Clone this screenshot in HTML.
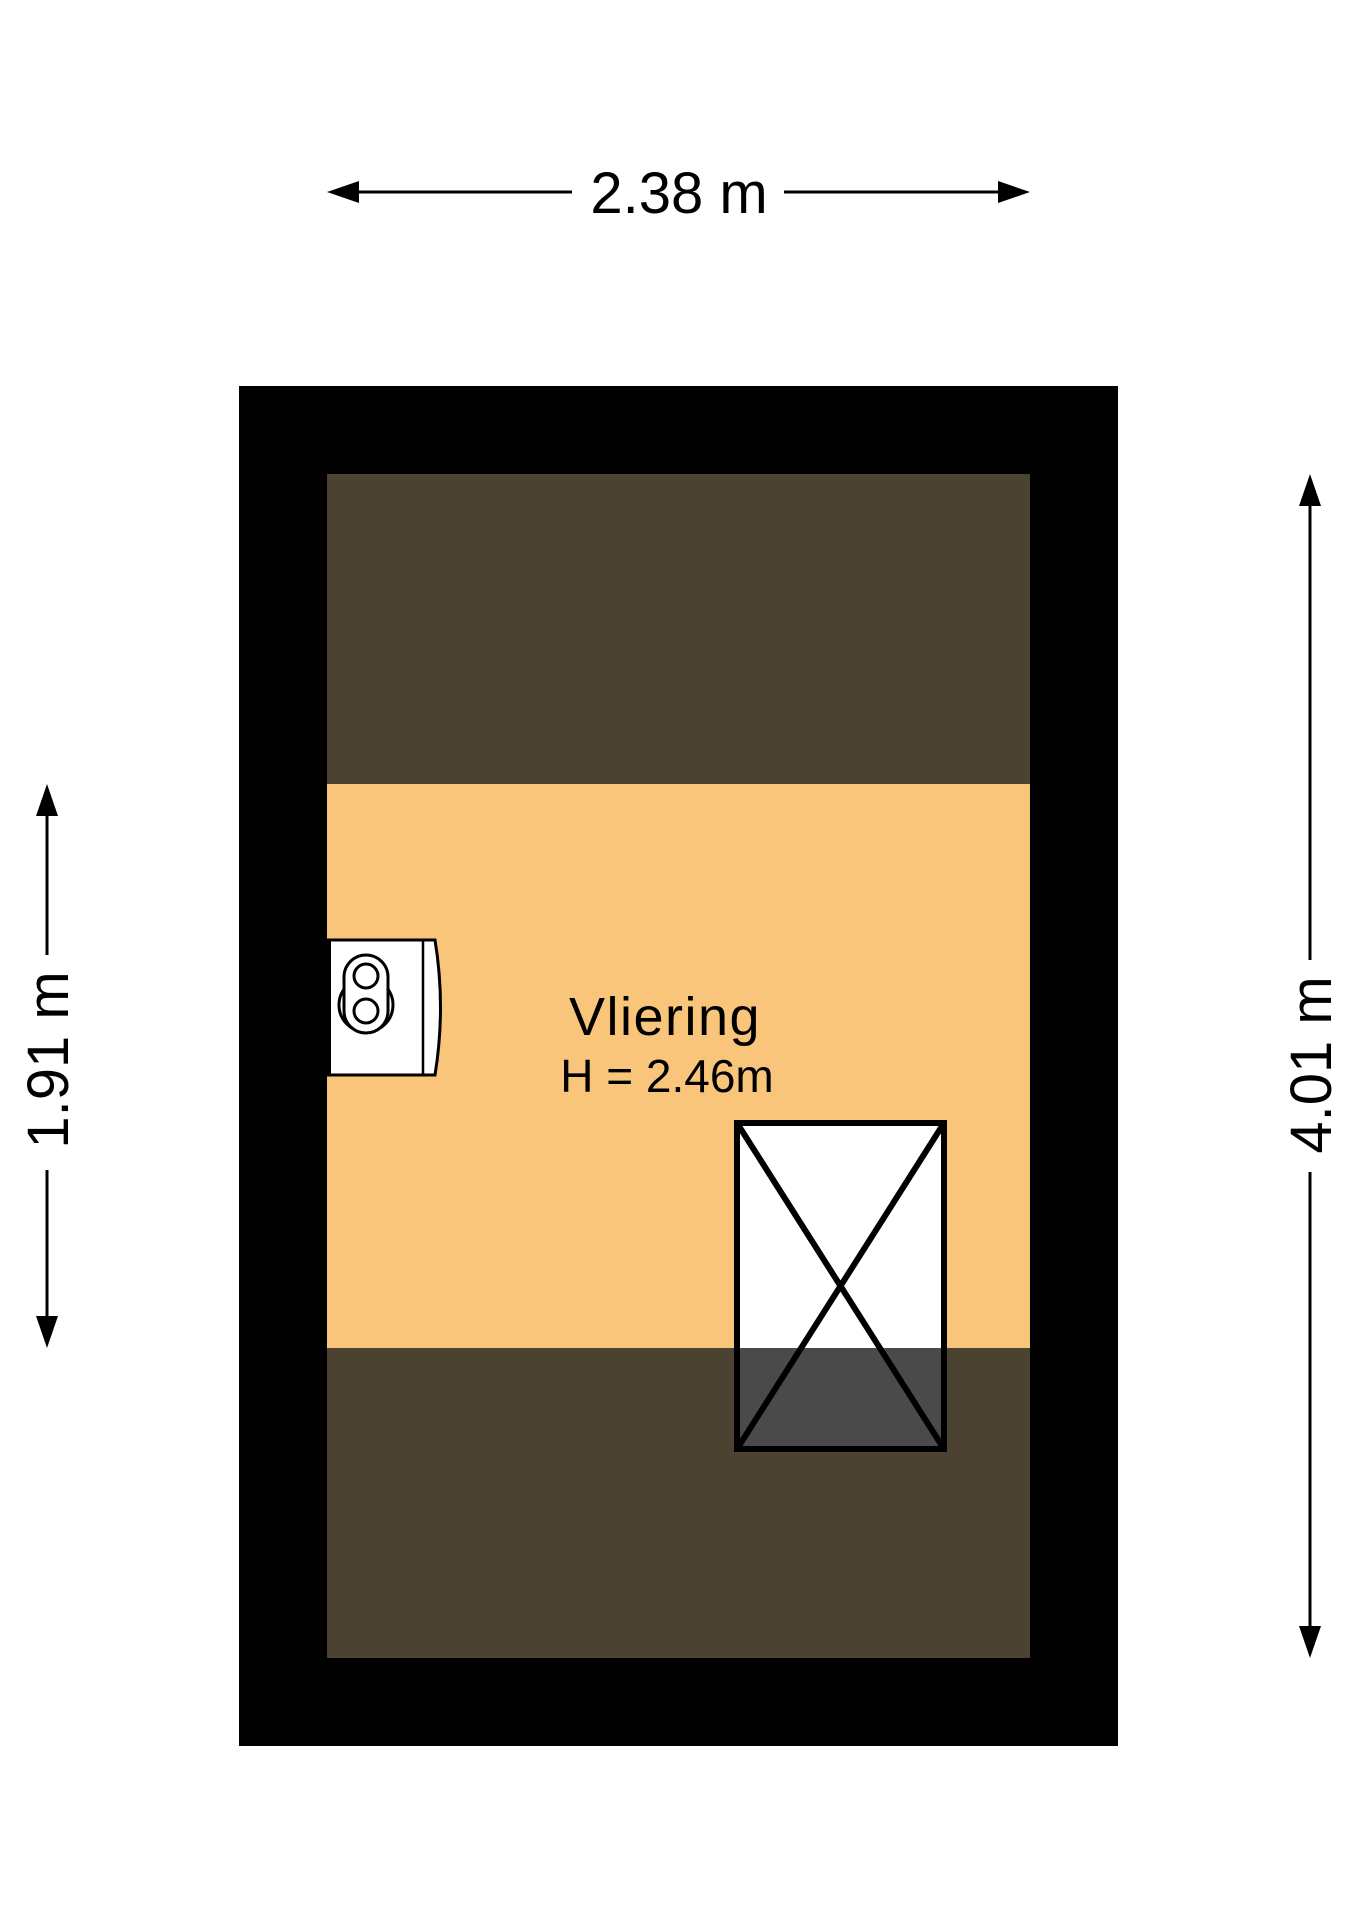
<!DOCTYPE html>
<html><head><meta charset="utf-8"><style>
html,body{margin:0;padding:0;background:#fff;}
svg{display:block;}
text{font-family:"Liberation Sans",sans-serif;fill:#000;}
</style></head><body>
<svg width="1358" height="1920" viewBox="0 0 1358 1920" xmlns="http://www.w3.org/2000/svg">
<rect x="239" y="386" width="879" height="1360" fill="#000"/>
<rect x="327" y="474" width="703" height="1184" fill="#4b4232"/>
<rect x="327" y="784" width="703" height="564" fill="#f9c57a"/>
<!-- boiler -->
<path d="M327 940 L435 940 Q446 1007 435 1075 L327 1075 Z" fill="#fff" stroke="#000" stroke-width="3"/>
<line x1="423" y1="941" x2="423" y2="1074" stroke="#000" stroke-width="2.5"/>
<rect x="327" y="940" width="4" height="135" fill="#000"/>
<circle cx="366" cy="1005" r="27" fill="none" stroke="#000" stroke-width="3"/>
<rect x="344" y="955" width="44" height="78" rx="22" fill="#fff" stroke="#000" stroke-width="3"/>
<circle cx="366" cy="976" r="12" fill="none" stroke="#000" stroke-width="3"/>
<circle cx="366" cy="1011" r="12" fill="none" stroke="#000" stroke-width="3"/>
<!-- hatch -->
<rect x="737" y="1123" width="207" height="225" fill="#fff"/>
<rect x="737" y="1348" width="207" height="101" fill="#4a4a4a"/>
<rect x="737" y="1123" width="207" height="326" fill="none" stroke="#000" stroke-width="6"/>
<line x1="737" y1="1123" x2="944" y2="1449" stroke="#000" stroke-width="6"/>
<line x1="944" y1="1123" x2="737" y2="1449" stroke="#000" stroke-width="6"/>
<!-- labels -->
<text x="665" y="1035" font-size="54" text-anchor="middle" letter-spacing="1.5">Vliering</text>
<text x="667" y="1092" font-size="46" text-anchor="middle">H = 2.46m</text>
<!-- top dim -->
<line x1="350" y1="192" x2="572" y2="192" stroke="#000" stroke-width="3"/>
<line x1="784" y1="192" x2="1008" y2="192" stroke="#000" stroke-width="3"/>
<polygon points="327,192 359,181 359,203" fill="#000"/>
<polygon points="1030,192 998,181 998,203" fill="#000"/>
<text x="679" y="213" font-size="58" text-anchor="middle">2.38 m</text>
<!-- left dim -->
<line x1="47" y1="806" x2="47" y2="955" stroke="#000" stroke-width="3"/>
<line x1="47" y1="1170" x2="47" y2="1328" stroke="#000" stroke-width="3"/>
<polygon points="47,784 36,816 58,816" fill="#000"/>
<polygon points="47,1348 36,1316 58,1316" fill="#000"/>
<text transform="translate(68,1060) rotate(-90)" font-size="58" text-anchor="middle">1.91 m</text>
<!-- right dim -->
<line x1="1310" y1="496" x2="1310" y2="960" stroke="#000" stroke-width="3"/>
<line x1="1310" y1="1172" x2="1310" y2="1636" stroke="#000" stroke-width="3"/>
<polygon points="1310,474 1299,506 1321,506" fill="#000"/>
<polygon points="1310,1658 1299,1626 1321,1626" fill="#000"/>
<text transform="translate(1331,1065) rotate(-90)" font-size="58" text-anchor="middle">4.01 m</text>
</svg>
</body></html>
